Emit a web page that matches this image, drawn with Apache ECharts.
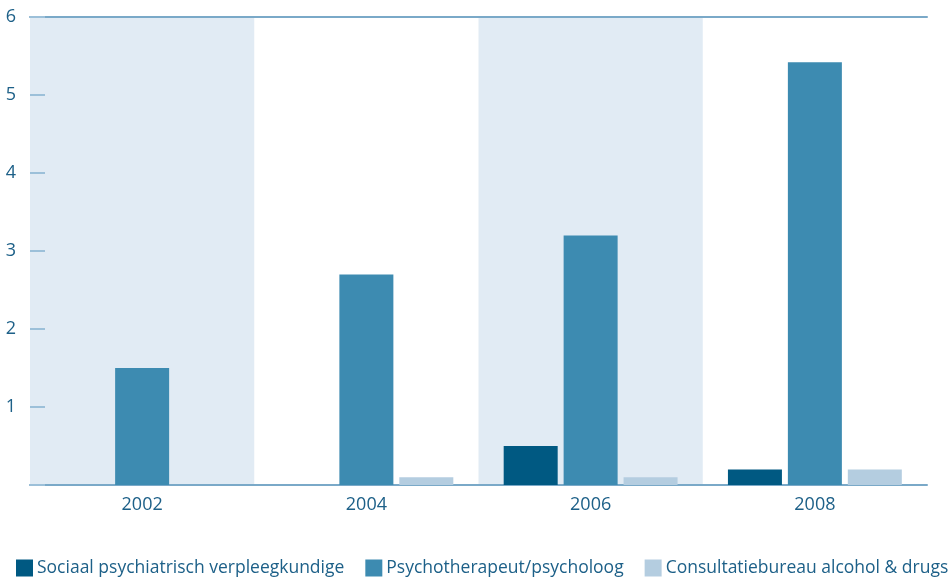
<!DOCTYPE html>
<html>
<head>
<meta charset="utf-8">
<script src="https://cdn.jsdelivr.net/npm/echarts@6/dist/echarts.min.js"></script>
<style>
  html, body { margin: 0; padding: 0; background: #fff; }
  #chart { width: 949px; height: 579px; }
</style>
</head>
<body>
<div id="chart"></div>
<script>
// categories (years)
const years = ['2002', '2004', '2006', '2008']
// series values
const seriesNames = ['Sociaal psychiatrisch verpleegkundige', 'Psychotherapeut/psycholoog', 'Consultatiebureau alcohol & drugs']
const sociaal = [0, 0, 0.5, 0.2]
const psycho = [1.5, 2.7, 3.2, 5.42]
const consult = [0, 0.1, 0.1, 0.2]
// y ticks
const yTicks = [0, 1, 2, 3, 4, 5, 6]

const colors = ['#005982', '#3d8bb1', '#b4cde0']
const axisColor = '#7aa9c8'
const textColor = '#1d6088'
const font = '"Open Sans", "Noto Sans", sans-serif'

const chart = echarts.init(document.getElementById('chart'))

const makeBar = (name, data, i) => ({
  name: name,
  type: 'bar',
  data: data,
  barWidth: 54,
  barGap: '11%',
  itemStyle: { color: colors[i] },
  xAxisIndex: 0
})

chart.setOption({
  animation: false,
  color: colors,
  grid: { left: 30, right: 22, top: 17, bottom: 94 },
  legend: {
    bottom: 2,
    left: 16,
    width: 990,
    padding: 0,
    itemWidth: 17,
    itemHeight: 17,
    itemGap: 21,
    icon: 'rect',
    textStyle: { color: textColor, fontSize: 17.5, fontFamily: font, padding: [0, 0, 0, -1] },
    data: seriesNames
  },
  xAxis: [
    {
      type: 'category',
      data: years,
      axisLine: { lineStyle: { color: axisColor, width: 2 } },
      axisTick: { inside: true, length: 9, lineStyle: { color: axisColor, width: 2 } },
      axisLabel: { color: textColor, fontSize: 18, fontFamily: font, margin: 11 },
      splitArea: { show: true, areaStyle: { color: ['#e1ebf4', 'rgba(255,255,255,0)'] } }
    },
    {
      // top border line
      type: 'category',
      data: years,
      position: 'top',
      axisLine: { lineStyle: { color: axisColor, width: 2 } },
      axisTick: { show: false },
      axisLabel: { show: false }
    }
  ],
  yAxis: {
    type: 'value',
    min: yTicks[0],
    max: yTicks[yTicks.length - 1],
    interval: 1,
    axisLine: { show: false },
    axisTick: { show: true, inside: true, length: 15, lineStyle: { color: '#9cc0d9', width: 2 } },
    splitLine: { show: false },
    axisLabel: {
      color: textColor,
      fontSize: 18,
      fontFamily: font,
      margin: 14,
      formatter: v => (v === 0 ? '' : String(v))
    }
  },
  series: [
    makeBar(seriesNames[0], sociaal, 0),
    makeBar(seriesNames[1], psycho, 1),
    makeBar(seriesNames[2], consult, 2)
  ]
})
</script>
</body>
</html>
